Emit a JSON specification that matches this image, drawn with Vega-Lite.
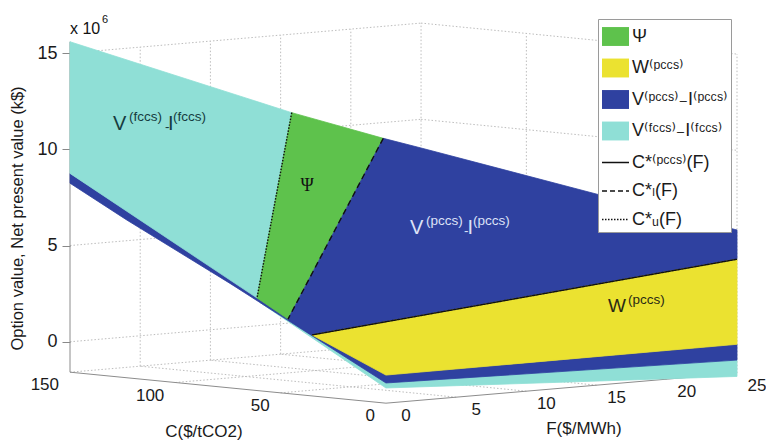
{
  "$schema": "https://vega.github.io/schema/vega-lite/v6.json",
  "width": 667,
  "height": 433,
  "autosize": {"type": "none"},
  "padding": {"left": 70, "top": 5, "right": 29, "bottom": 9},
  "background": "white",
  "config": {"view": {"stroke": null}, "font": "Liberation Sans", "text": {"font": "Liberation Sans"}},
  "data": {"values": [
    {"kind": "grid", "C": 150, "F": 5, "Z": -1.58, "C2": 150, "F2": 5, "Z2": 15},
    {"kind": "grid", "C": 150, "F": 10, "Z": -1.58, "C2": 150, "F2": 10, "Z2": 15},
    {"kind": "grid", "C": 150, "F": 15, "Z": -1.58, "C2": 150, "F2": 15, "Z2": 15},
    {"kind": "grid", "C": 150, "F": 20, "Z": -1.58, "C2": 150, "F2": 20, "Z2": 15},
    {"kind": "grid", "C": 150, "F": 25, "Z": -1.58, "C2": 150, "F2": 25, "Z2": 15},
    {"kind": "grid", "C": 150, "F": 0, "Z": 0, "C2": 150, "F2": 25, "Z2": 0},
    {"kind": "grid", "C": 150, "F": 0, "Z": 5, "C2": 150, "F2": 25, "Z2": 5},
    {"kind": "grid", "C": 150, "F": 0, "Z": 10, "C2": 150, "F2": 25, "Z2": 10},
    {"kind": "grid", "C": 150, "F": 0, "Z": 15, "C2": 150, "F2": 25, "Z2": 15},
    {"kind": "grid", "C": 100, "F": 25, "Z": -1.58, "C2": 100, "F2": 25, "Z2": 15},
    {"kind": "grid", "C": 50, "F": 25, "Z": -1.58, "C2": 50, "F2": 25, "Z2": 15},
    {"kind": "grid", "C": 0, "F": 25, "Z": -1.58, "C2": 0, "F2": 25, "Z2": 15},
    {"kind": "grid", "C": 150, "F": 25, "Z": 0, "C2": 0, "F2": 25, "Z2": 0},
    {"kind": "grid", "C": 150, "F": 25, "Z": 5, "C2": 0, "F2": 25, "Z2": 5},
    {"kind": "grid", "C": 150, "F": 25, "Z": 10, "C2": 0, "F2": 25, "Z2": 10},
    {"kind": "grid", "C": 150, "F": 25, "Z": 15, "C2": 0, "F2": 25, "Z2": 15},
    {"kind": "grid", "C": 50, "F": 0, "Z": -1.58, "C2": 50, "F2": 25, "Z2": -1.58},
    {"kind": "grid", "C": 100, "F": 0, "Z": -1.58, "C2": 100, "F2": 25, "Z2": -1.58},
    {"kind": "grid", "C": 150, "F": 0, "Z": -1.58, "C2": 150, "F2": 25, "Z2": -1.58},
    {"kind": "grid", "C": 0, "F": 5, "Z": -1.58, "C2": 150, "F2": 5, "Z2": -1.58},
    {"kind": "grid", "C": 0, "F": 10, "Z": -1.58, "C2": 150, "F2": 10, "Z2": -1.58},
    {"kind": "grid", "C": 0, "F": 15, "Z": -1.58, "C2": 150, "F2": 15, "Z2": -1.58},
    {"kind": "grid", "C": 0, "F": 20, "Z": -1.58, "C2": 150, "F2": 20, "Z2": -1.58},
    {"kind": "grid", "C": 0, "F": 25, "Z": -1.58, "C2": 150, "F2": 25, "Z2": -1.58},
    {"kind": "axis", "C": 150, "F": 0, "Z": -1.58, "C2": 150, "F2": 0, "Z2": 15.59},
    {"kind": "axis", "C": 150, "F": 0, "Z": -1.58, "C2": 0, "F2": 0, "Z2": -1.58},
    {"kind": "axis", "C": 0, "F": 0, "Z": -1.58, "C2": 0, "F2": 25, "Z2": -1.58},

    {"kind": "poly", "poly": "p1", "layer": "base", "series": "fccs", "i": 1, "C": 59.8, "F": 0, "Z": 3.01},
    {"kind": "poly", "poly": "p1", "layer": "base", "series": "fccs", "i": 2, "C": 0, "F": 0, "Z": -0.79},
    {"kind": "poly", "poly": "p1", "layer": "base", "series": "fccs", "i": 3, "C": 0, "F": 25, "Z": -1.75},
    {"kind": "poly", "poly": "p1", "layer": "base", "series": "fccs", "i": 4, "C": 0, "F": 25, "Z": -0.9},
    {"kind": "poly", "poly": "p1", "layer": "base", "series": "fccs", "i": 5, "C": 0, "F": 0, "Z": -0.53},
    {"kind": "poly", "poly": "p1", "layer": "base", "series": "fccs", "i": 6, "C": 59.8, "F": 0, "Z": 3.01},

    {"kind": "poly", "poly": "p2", "layer": "base", "series": "pccs", "i": 1, "C": 150, "F": 0, "Z": 8.75},
    {"kind": "poly", "poly": "p2", "layer": "base", "series": "pccs", "i": 2, "C": 0, "F": 0, "Z": -0.12},
    {"kind": "poly", "poly": "p2", "layer": "base", "series": "pccs", "i": 3, "C": 0, "F": 25, "Z": -0.08},
    {"kind": "poly", "poly": "p2", "layer": "base", "series": "pccs", "i": 4, "C": 0, "F": 25, "Z": -0.9},
    {"kind": "poly", "poly": "p2", "layer": "base", "series": "pccs", "i": 5, "C": 0, "F": 0, "Z": -0.53},
    {"kind": "poly", "poly": "p2", "layer": "base", "series": "pccs", "i": 6, "C": 74.04, "F": 0, "Z": 3.85},
    {"kind": "poly", "poly": "p2", "layer": "base", "series": "pccs", "i": 7, "C": 123.08, "F": 0, "Z": 6.62},
    {"kind": "poly", "poly": "p2", "layer": "base", "series": "pccs", "i": 8, "C": 150, "F": 0, "Z": 8.24},
    {"kind": "poly", "poly": "p2", "layer": "base", "series": "pccs", "i": 9, "C": 150, "F": 0, "Z": 8.75},

    {"kind": "poly", "poly": "p3", "layer": "top", "series": "fccs", "i": 1, "C": 150, "F": 0, "Z": 15.59},
    {"kind": "poly", "poly": "p3", "layer": "top", "series": "fccs", "i": 2, "C": 150, "F": 15.79, "Z": 10.92},
    {"kind": "poly", "poly": "p3", "layer": "top", "series": "fccs", "i": 3, "C": 61.22, "F": 0, "Z": 3.23},
    {"kind": "poly", "poly": "p3", "layer": "top", "series": "fccs", "i": 4, "C": 150, "F": 0, "Z": 8.75},
    {"kind": "poly", "poly": "p3", "layer": "top", "series": "fccs", "i": 5, "C": 150, "F": 0, "Z": 15.59},

    {"kind": "poly", "poly": "p4", "layer": "top", "series": "psi", "i": 1, "C": 150, "F": 15.79, "Z": 10.92},
    {"kind": "poly", "poly": "p4", "layer": "top", "series": "psi", "i": 2, "C": 150, "F": 22.31, "Z": 9.18},
    {"kind": "poly", "poly": "p4", "layer": "top", "series": "psi", "i": 3, "C": 46.5, "F": 0, "Z": 2.29},
    {"kind": "poly", "poly": "p4", "layer": "top", "series": "psi", "i": 4, "C": 61.22, "F": 0, "Z": 3.23},
    {"kind": "poly", "poly": "p4", "layer": "top", "series": "psi", "i": 5, "C": 150, "F": 15.79, "Z": 10.92},

    {"kind": "poly", "poly": "p5", "layer": "top", "series": "pccs", "i": 1, "C": 150, "F": 22.31, "Z": 9.18},
    {"kind": "poly", "poly": "p5", "layer": "top", "series": "pccs", "i": 2, "C": 150, "F": 25, "Z": 8.51},
    {"kind": "poly", "poly": "p5", "layer": "top", "series": "pccs", "i": 3, "C": 65.04, "F": 25, "Z": 6.98},
    {"kind": "poly", "poly": "p5", "layer": "top", "series": "pccs", "i": 4, "C": 0, "F": 25, "Z": 5.86},
    {"kind": "poly", "poly": "p5", "layer": "top", "series": "pccs", "i": 5, "C": 0, "F": 25, "Z": 4.34},
    {"kind": "poly", "poly": "p5", "layer": "top", "series": "pccs", "i": 6, "C": 35.11, "F": 0, "Z": 1.59},
    {"kind": "poly", "poly": "p5", "layer": "top", "series": "pccs", "i": 7, "C": 46.5, "F": 0, "Z": 2.29},
    {"kind": "poly", "poly": "p5", "layer": "top", "series": "pccs", "i": 8, "C": 150, "F": 22.31, "Z": 9.18},

    {"kind": "poly", "poly": "p6", "layer": "top", "series": "W", "i": 1, "C": 35.11, "F": 0, "Z": 1.59},
    {"kind": "poly", "poly": "p6", "layer": "top", "series": "W", "i": 2, "C": 0, "F": 25, "Z": 4.34},
    {"kind": "poly", "poly": "p6", "layer": "top", "series": "W", "i": 3, "C": 0, "F": 25, "Z": -0.08},
    {"kind": "poly", "poly": "p6", "layer": "top", "series": "W", "i": 4, "C": 0, "F": 0, "Z": -0.12},
    {"kind": "poly", "poly": "p6", "layer": "top", "series": "W", "i": 5, "C": 35.11, "F": 0, "Z": 1.59},

    {"kind": "bound", "series": "CU", "i": 1, "C": 150, "F": 15.79, "Z": 10.92},
    {"kind": "bound", "series": "CU", "i": 2, "C": 61.22, "F": 0, "Z": 3.23},
    {"kind": "bound", "series": "CL", "i": 1, "C": 150, "F": 22.31, "Z": 9.18},
    {"kind": "bound", "series": "CL", "i": 2, "C": 46.5, "F": 0, "Z": 2.29},
    {"kind": "bound", "series": "Cp", "i": 1, "C": 35.11, "F": 0, "Z": 1.59},
    {"kind": "bound", "series": "Cp", "i": 2, "C": 0, "F": 25, "Z": 4.34},

    {"kind": "tick", "axis": "C", "v": 0, "C": 0, "F": 0, "Z": -1.58},
    {"kind": "tick", "axis": "C", "v": 50, "C": 50, "F": 0, "Z": -1.58},
    {"kind": "tick", "axis": "C", "v": 100, "C": 100, "F": 0, "Z": -1.58},
    {"kind": "tick", "axis": "C", "v": 150, "C": 150, "F": 0, "Z": -1.58},
    {"kind": "tick", "axis": "F", "v": 0, "C": 0, "F": 0, "Z": -1.58},
    {"kind": "tick", "axis": "F", "v": 5, "C": 0, "F": 5, "Z": -1.58},
    {"kind": "tick", "axis": "F", "v": 10, "C": 0, "F": 10, "Z": -1.58},
    {"kind": "tick", "axis": "F", "v": 15, "C": 0, "F": 15, "Z": -1.58},
    {"kind": "tick", "axis": "F", "v": 20, "C": 0, "F": 20, "Z": -1.58},
    {"kind": "tick", "axis": "F", "v": 25, "C": 0, "F": 25, "Z": -1.58},

    {"kind": "title", "name": "C($/tCO2)", "C": 86.4, "F": 0, "Z": -4.01},
    {"kind": "title", "name": "F($/MWh)", "C": 0, "F": 14.1, "Z": -3.8},

    {"kind": "label", "id": "A", "C": 129.6, "F": 0, "Z": 11.22},
    {"kind": "label", "id": "B", "C": 100, "F": 9.38, "Z": 8.05},
    {"kind": "label", "id": "C", "C": 100, "F": 16.71, "Z": 5.09},
    {"kind": "label", "id": "D", "C": 30, "F": 20.31, "Z": 1.57},
    {"kind": "label", "id": "X", "C": 150, "F": 0, "Z": 15.99}
  ]},
  "transform": [
    {"calculate": "datum.F + 0.15 * (150 - datum.C)", "as": "hx"},
    {"calculate": "datum.Z + 0.01074 * (datum.C - 150) + 0.0624 * datum.F", "as": "zy"},
    {"calculate": "datum.F2 + 0.15 * (150 - datum.C2)", "as": "hx2"},
    {"calculate": "datum.Z2 + 0.01074 * (datum.C2 - 150) + 0.0624 * datum.F2", "as": "zy2"}
  ],
  "encoding": {
    "x": {"field": "hx", "type": "quantitative", "scale": {"domain": [0, 47.5]}, "axis": null},
    "y": {"field": "zy", "type": "quantitative", "scale": {"domain": [-5, 17.5]},
      "axis": {"title": "Option value, Net present value (k$)", "values": [0, 5, 10, 15], "domain": false, "grid": false,
        "tickSize": 8, "tickColor": "#888888", "labelFontSize": 18, "labelColor": "#1a1a1a", "labelPadding": 5,
        "labelFont": "Liberation Sans", "titleFont": "Liberation Sans", "titleFontSize": 16.5, "titleFontWeight": "normal",
        "titleColor": "#1a1a1a", "titleX": -45, "titleY": 213, "titleBaseline": "bottom", "titleAlign": "center", "titleAngle": 270}}
  },
  "layer": [
    {"transform": [{"filter": "datum.kind === 'grid'"}],
     "mark": {"type": "rule", "color": "#bdbdbd", "strokeDash": [1.5, 2], "strokeWidth": 1},
     "encoding": {"x2": {"field": "hx2"}, "y2": {"field": "zy2"}}},
    {"transform": [{"filter": "datum.kind === 'axis'"}],
     "mark": {"type": "rule", "color": "#8c8c8c", "strokeWidth": 1},
     "encoding": {"x2": {"field": "hx2"}, "y2": {"field": "zy2"}}},
    {"transform": [{"filter": "datum.kind === 'poly' && datum.layer === 'base'"}],
     "mark": {"type": "line", "strokeWidth": 0.8, "interpolate": "linear"},
     "encoding": {
       "detail": {"field": "poly"},
       "order": {"field": "i", "type": "quantitative"},
       "fill": {"field": "series", "type": "nominal",
         "scale": {"domain": ["psi", "W", "pccs", "fccs", "Cp", "CL", "CU"], "range": ["#5ec24c", "#ebe230", "#2f41a0", "#8fdfd6", "#000000", "#000000", "#000000"]},
         "legend": {"orient": "none", "legendX": 528, "legendY": 14, "title": null, "direction": "vertical",
           "symbolSize": 729, "symbolType": "M-1,-0.7H1V0.7H-1Z", "rowPadding": 4.5, "padding": 3, "labelOffset": 2,
           "labelFontSize": 18, "labelFont": "Liberation Sans, DejaVu Sans", "labelColor": "#1a1a1a", "labelLimit": 200,
           "strokeColor": "#9a9a9a", "fillColor": "white",
           "labelExpr": "datum.value === 'psi' ? 'Ψ' : datum.value === 'W' ? 'W⁽ᵖᶜᶜˢ⁾' : datum.value === 'pccs' ? 'V⁽ᵖᶜᶜˢ⁾₋I⁽ᵖᶜᶜˢ⁾' : datum.value === 'fccs' ? 'V⁽ᶠᶜᶜˢ⁾₋I⁽ᶠᶜᶜˢ⁾' : datum.value === 'Cp' ? 'C*⁽ᵖᶜᶜˢ⁾(F)' : datum.value === 'CL' ? 'C*ₗ(F)' : 'C*ᵤ(F)'",
           "encode": {"symbols": {"update": {
             "shape": {"signal": "indexof(['Cp','CL','CU'], datum.value) >= 0 ? 'M-1,0H1' : 'M-1,-0.7H1V0.7H-1Z'"},
             "fill": {"signal": "indexof(['Cp','CL','CU'], datum.value) >= 0 ? 'transparent' : scale('fill', datum.value)"},
             "stroke": {"signal": "indexof(['Cp','CL','CU'], datum.value) >= 0 ? '#111111' : 'transparent'"},
             "strokeDash": {"signal": "datum.value === 'CL' ? [5, 3] : datum.value === 'CU' ? [1.5, 1.5] : [1, 0]"},
             "strokeWidth": {"value": 1.4},
             "opacity": {"value": 1}
           }}}}},
       "stroke": {"field": "series", "type": "nominal",
         "scale": {"domain": ["psi", "W", "pccs", "fccs"], "range": ["#5ec24c", "#ebe230", "#2f41a0", "#8fdfd6"]}, "legend": null}
     }},
    {"transform": [{"filter": "datum.kind === 'poly' && datum.layer === 'top'"}],
     "mark": {"type": "line", "strokeWidth": 0.8, "interpolate": "linear"},
     "encoding": {
       "detail": {"field": "poly"},
       "order": {"field": "i", "type": "quantitative"},
       "fill": {"field": "series", "type": "nominal"},
       "stroke": {"field": "series", "type": "nominal"}
     }},
    {"transform": [{"filter": "datum.kind === 'bound'"}],
     "mark": {"type": "line", "color": "#111111", "strokeWidth": 1.4},
     "encoding": {
       "detail": {"field": "series"},
       "order": {"field": "i", "type": "quantitative"},
       "strokeDash": {"field": "series", "type": "nominal",
         "scale": {"domain": ["Cp", "CL", "CU"], "range": [[1, 0], [6, 4], [1.5, 1.5]]}, "legend": null}
     }},
    {"transform": [{"filter": "datum.kind === 'tick' && datum.axis === 'C'"}],
     "mark": {"type": "text", "align": "right", "baseline": "top", "dx": -11, "dy": 5, "fontSize": 17, "color": "#1a1a1a"},
     "encoding": {"text": {"field": "v", "type": "quantitative"}}},
    {"transform": [{"filter": "datum.kind === 'tick' && datum.axis === 'F'"}],
     "mark": {"type": "text", "align": "center", "baseline": "top", "dx": 20, "dy": 5, "fontSize": 17, "color": "#1a1a1a"},
     "encoding": {"text": {"field": "v", "type": "quantitative"}}},
    {"transform": [{"filter": "datum.kind === 'title'"}],
     "mark": {"type": "text", "align": "center", "baseline": "middle", "fontSize": 17, "color": "#1a1a1a"},
     "encoding": {"text": {"field": "name"}}},

    {"transform": [{"filter": "datum.kind === 'label' && datum.id === 'A'"}],
     "mark": {"type": "text", "text": "V", "align": "left", "baseline": "alphabetic", "fontSize": 20, "color": "#163c40"}},
    {"transform": [{"filter": "datum.kind === 'label' && datum.id === 'A'"}],
     "mark": {"type": "text", "text": "(fccs)", "align": "left", "baseline": "alphabetic", "fontSize": 13.5, "dx": 16, "dy": -9, "color": "#163c40"}},
    {"transform": [{"filter": "datum.kind === 'label' && datum.id === 'A'"}],
     "mark": {"type": "text", "text": "-", "align": "left", "baseline": "alphabetic", "fontSize": 13.5, "dx": 52, "dy": 1, "color": "#163c40"}},
    {"transform": [{"filter": "datum.kind === 'label' && datum.id === 'A'"}],
     "mark": {"type": "text", "text": "I", "align": "left", "baseline": "alphabetic", "fontSize": 20, "dx": 55, "color": "#163c40"}},
    {"transform": [{"filter": "datum.kind === 'label' && datum.id === 'A'"}],
     "mark": {"type": "text", "text": "(fccs)", "align": "left", "baseline": "alphabetic", "fontSize": 13.5, "dx": 60, "dy": -9, "color": "#163c40"}},

    {"transform": [{"filter": "datum.kind === 'label' && datum.id === 'B'"}],
     "mark": {"type": "text", "text": "Ψ", "align": "center", "baseline": "middle", "fontSize": 18, "font": "Liberation Serif", "color": "#111111"}},

    {"transform": [{"filter": "datum.kind === 'label' && datum.id === 'C'"}],
     "mark": {"type": "text", "text": "V", "align": "left", "baseline": "alphabetic", "fontSize": 20, "color": "#dde1f7"}},
    {"transform": [{"filter": "datum.kind === 'label' && datum.id === 'C'"}],
     "mark": {"type": "text", "text": "(pccs)", "align": "left", "baseline": "alphabetic", "fontSize": 13.5, "dx": 16, "dy": -9, "color": "#dde1f7"}},
    {"transform": [{"filter": "datum.kind === 'label' && datum.id === 'C'"}],
     "mark": {"type": "text", "text": "-", "align": "left", "baseline": "alphabetic", "fontSize": 13.5, "dx": 54, "dy": 1, "color": "#dde1f7"}},
    {"transform": [{"filter": "datum.kind === 'label' && datum.id === 'C'"}],
     "mark": {"type": "text", "text": "I", "align": "left", "baseline": "alphabetic", "fontSize": 20, "dx": 57.5, "color": "#dde1f7"}},
    {"transform": [{"filter": "datum.kind === 'label' && datum.id === 'C'"}],
     "mark": {"type": "text", "text": "(pccs)", "align": "left", "baseline": "alphabetic", "fontSize": 13.5, "dx": 63, "dy": -9, "color": "#dde1f7"}},

    {"transform": [{"filter": "datum.kind === 'label' && datum.id === 'D'"}],
     "mark": {"type": "text", "text": "W", "align": "left", "baseline": "alphabetic", "fontSize": 19, "color": "#2a2a14"}},
    {"transform": [{"filter": "datum.kind === 'label' && datum.id === 'D'"}],
     "mark": {"type": "text", "text": "(pccs)", "align": "left", "baseline": "alphabetic", "fontSize": 13.5, "dx": 20, "dy": -8, "color": "#2a2a14"}},

    {"transform": [{"filter": "datum.kind === 'label' && datum.id === 'X'"}],
     "mark": {"type": "text", "text": "x 10", "align": "left", "baseline": "alphabetic", "fontSize": 16, "color": "#111111"}},
    {"transform": [{"filter": "datum.kind === 'label' && datum.id === 'X'"}],
     "mark": {"type": "text", "text": "6", "align": "left", "baseline": "alphabetic", "fontSize": 11, "dx": 32, "dy": -11, "color": "#111111"}}
  ]
}
